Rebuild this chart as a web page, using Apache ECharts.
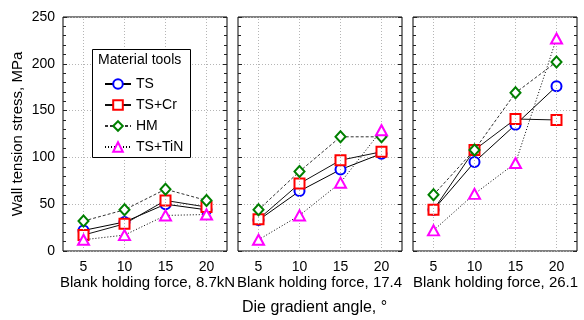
<!DOCTYPE html>
<html><head><meta charset="utf-8">
<script src="https://cdn.jsdelivr.net/npm/echarts@6/dist/echarts.min.js"></script>
<style>html,body{margin:0;padding:0;background:#fff}#c{width:584px;height:320px}</style>
</head><body><div id="c"></div>
<script>
const categories = ['5', '10', '15', '20'];
const panelNames = ['Blank holding force, 8.7kN', 'Blank holding force, 17.4', 'Blank holding force, 26.1'];
const seriesNames = ['TS', 'TS+Cr', 'HM', 'TS+TiN'];
const yTicks = [0, 50, 100, 150, 200, 250];
// values per panel (blank holding force 8.7, 17.4, 26.1 kN)
const TS    = [[22, 31, 50, 44], [33, 64, 87, 104], [44, 95, 135, 176]];
const TS_Cr = [[17, 29, 54, 47], [34, 72, 97, 106], [44, 108, 141, 140]];
const HM    = [[32, 44, 66, 54], [44, 85, 122, 122], [60, 108, 169, 202]];
const TS_TiN= [[12, 17, 38, 39], [12, 38, 73, 129], [22, 61, 94, 227]];

const allData = [TS, TS_Cr, HM, TS_TiN];
const styles = [
  {symbol: 'circle', color: '#0000ff', line: {color: '#000', width: 1, type: 'solid'}, size: 10},
  {symbol: 'rect', color: '#ff0000', line: {color: '#111', width: 1, type: 'solid'}, size: 10},
  {symbol: 'diamond', color: '#008000', line: {color: '#333', width: 1, type: [3, 2]}, size: [10, 11]},
  {symbol: 'triangle', color: '#ff00ff', line: {color: '#000', width: 1, type: [1, 2]}, size: [11, 10]}
];
const lefts = [63, 238, 413];
const grids = [], xAxes = [], yAxes = [], series = [];
const gridColor = '#b5b5b5';
const FONT = 'Liberation Sans, Arial';
lefts.forEach((l, i) => {
  grids.push({left: l, top: 17, width: 164, height: 234, show: true, borderColor: '#000', borderWidth: 1, backgroundColor: 'transparent'});
  xAxes.push({type: 'category', gridIndex: i, data: categories, boundaryGap: true,
    axisLine: {show: false}, axisTick: {show: false}, splitLine: {show: false},
    axisLabel: {color: '#000', fontSize: 14, fontFamily: FONT, margin: 9}});
  yAxes.push({type: 'value', gridIndex: i, min: yTicks[0], max: yTicks[yTicks.length - 1], interval: 50, position: 'left',
    axisLine: {show: false},
    axisTick: {show: true, inside: true, length: 4, lineStyle: {color: '#222'}},
    minorTick: {show: true, splitNumber: 5, length: 3, lineStyle: {color: '#222'}},
    splitLine: {show: true, lineStyle: {color: gridColor, type: [1, 2]}},
    axisLabel: {show: i === 0, color: '#000', fontSize: 14, fontFamily: FONT, margin: 8},
    name: i === 0 ? 'Wall tension stress, MPa' : '', nameLocation: 'middle', nameGap: 38,
    nameTextStyle: {fontSize: 15, color: '#000', fontFamily: FONT}});
  yAxes.push({type: 'value', gridIndex: i, min: yTicks[0], max: yTicks[yTicks.length - 1], interval: 50, position: 'right',
    axisLine: {show: false},
    axisTick: {show: true, inside: true, length: 4, lineStyle: {color: '#222'}},
    minorTick: {show: true, splitNumber: 5, length: 3, lineStyle: {color: '#222'}},
    splitLine: {show: false}, axisLabel: {show: false}});
  seriesNames.forEach((n, k) => {
    const st = styles[k];
    const s = {type: 'line', name: n, xAxisIndex: i, yAxisIndex: 2 * i, data: allData[k][i],
      symbol: st.symbol, symbolSize: st.size, showAllSymbol: true,
      itemStyle: {color: '#fff', borderColor: st.color, borderWidth: 2},
      lineStyle: st.line, z: 3 + k, animation: false};
    if (k === 0) {
      s.markLine = {silent: true, symbol: 'none', label: {show: false}, animation: false,
        lineStyle: {color: gridColor, type: [1, 2], width: 1},
        emphasis: {disabled: true},
        data: categories.map(c => ({xAxis: c}))};
    }
    series.push(s);
  });
});

const chart = echarts.init(document.getElementById('c'), null, {renderer: 'canvas'});
chart.setOption({
  animation: false,
  grid: grids, xAxis: xAxes, yAxis: yAxes, series: series,
  legend: {data: seriesNames, orient: 'vertical', left: 99, top: 72, itemWidth: 26, itemHeight: 12, itemGap: 7,
    textStyle: {fontSize: 14, color: '#000', fontFamily: FONT}, z: 10, selectedMode: false},
  graphic: [
    {type: 'rect', left: 92, top: 49, z: 8, shape: {width: 98, height: 108}, style: {fill: '#fff', stroke: '#000', lineWidth: 1}},
    {type: 'text', left: 98, top: 53, z: 9, style: {text: 'Material tools', fontSize: 14, fill: '#000', fontFamily: FONT}},
    {type: 'text', left: 60, top: 275, style: {text: panelNames[0], fontSize: 15, fill: '#000', fontFamily: FONT}},
    {type: 'text', left: 237, top: 275, style: {text: panelNames[1], fontSize: 15, fill: '#000', fontFamily: FONT}},
    {type: 'text', left: 413, top: 275, style: {text: panelNames[2], fontSize: 15, fill: '#000', fontFamily: FONT}},
    {type: 'text', left: 242, top: 300, style: {text: 'Die gradient angle, °', fontSize: 16, fill: '#000', fontFamily: FONT}}
  ]
});
</script></body></html>
